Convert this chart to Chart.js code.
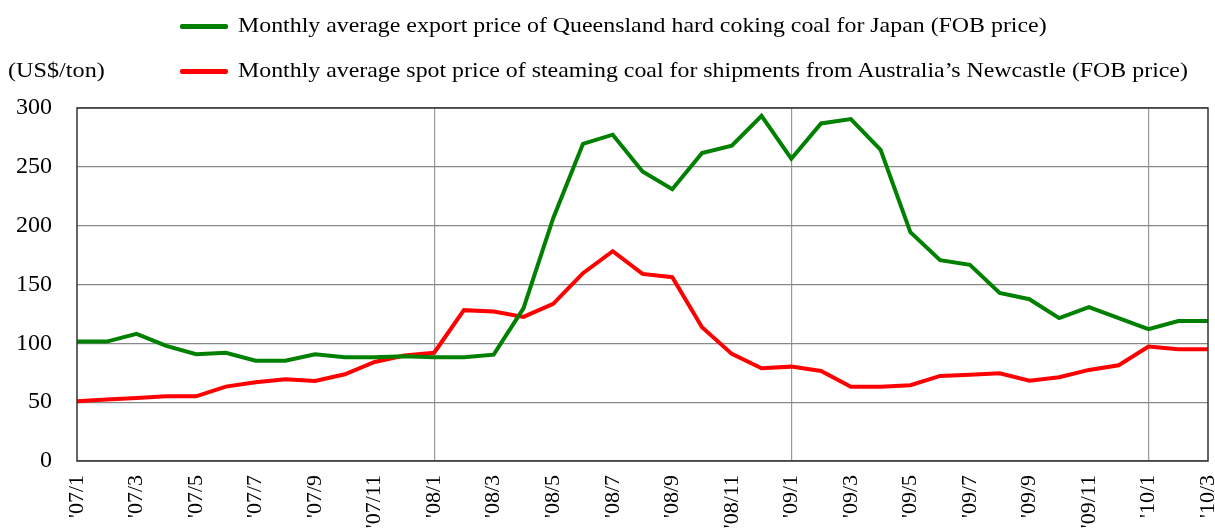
<!DOCTYPE html>
<html>
<head>
<meta charset="utf-8">
<script src="https://cdn.jsdelivr.net/npm/chart.js@4"></script>
<style>
  html, body { margin: 0; padding: 0; background: #fff; overflow: hidden; }
  body { width: 1215px; height: 530px; position: relative; font-family: "Liberation Serif", "Times New Roman", serif; color: #000; }
  #wrap { position: absolute; left: 0; top: 0; width: 1215px; height: 531px; }
  .key { position: absolute; left: 180px; height: 30px; line-height: 30px; font-size: 22px; white-space: nowrap; }
  .key span { display: inline-block; width: 48px; height: 5px; vertical-align: middle; margin-right: 10px; border-radius: 2px; }
  .key em { font-style: normal; display: inline-block; transform: scaleX(1.085); transform-origin: left center; }
  #unit { position: absolute; left: 8px; top: 55px; font-size: 22px; line-height: 30px; transform: scaleX(1.1); transform-origin: left center; }
</style>
</head>
<body>
<div id="wrap"><canvas id="coalChart"></canvas></div>
<div class="key" style="top:10px"><span style="background:#008000"></span><em>Monthly average export price of Queensland hard coking coal for Japan (FOB price)</em></div>
<div class="key" style="top:55px"><span style="background:#ff0000"></span><em>Monthly average spot price of steaming coal for shipments from Australia’s Newcastle (FOB price)</em></div>
<div id="unit">(US$/ton)</div>
<script>
// months '07/1 .. '10/3
const months = [];
for (let y = 7; y <= 10; y++) {
  for (let m = 1; m <= 12; m++) {
    if (y === 10 && m > 3) break;
    months.push("'" + String(y).padStart(2, "0") + "/" + m);
  }
}

const cokingCoal = [
  101.5, 101.5, 108, 97.8, 90.7, 91.9, 85.3, 85.3, 90.7, 88.2, 88.2, 89,
  88.2, 88.2, 90.4, 129.8, 206.4, 269.6, 277.3, 246, 231, 261.7, 267.9, 293.4,
  256.9, 286.9, 290.6, 264.5, 194.5, 170.7, 166.7, 142.9, 137.5, 121.4, 130.7, 121.4,
  112, 119, 119
];

const steamingCoal = [
  50.8, 52.2, 53.6, 55, 55, 63.2, 66.9, 69.5, 68, 73.7, 84.2, 89.6,
  92, 128.2, 127, 122.5, 133.5, 159.6, 178.3, 159, 156.2, 113.7, 91, 78.8,
  80.2, 76.5, 63, 63, 64.4, 72.3, 73.4, 74.6, 68.3, 71.2, 77.4, 81.4,
  97.2, 95, 95
];

const yearStarts = [12, 24, 36];

// frame round the plot area
const frame = {
  id: "frame",
  afterDraw(chart) {
    const a = chart.chartArea;
    const ctx = chart.ctx;
    ctx.save();
    ctx.strokeStyle = "#333";
    ctx.lineWidth = 1.5;
    ctx.strokeRect(a.left, a.top, a.right - a.left, a.bottom - a.top);
    ctx.restore();
  }
};

const serif = "'Liberation Serif', 'Times New Roman', serif";

new Chart(document.getElementById("coalChart"), {
  type: "line",
  data: {
    labels: months,
    datasets: [
      {
        label: "Monthly average export price of Queensland hard coking coal for Japan (FOB price)",
        data: cokingCoal,
        borderColor: "#008000",
        borderWidth: 4,
        pointRadius: 0,
        tension: 0,
        borderJoinStyle: "miter"
      },
      {
        label: "Monthly average spot price of steaming coal for shipments from Australia’s Newcastle (FOB price)",
        data: steamingCoal,
        borderColor: "#ff0000",
        borderWidth: 4,
        pointRadius: 0,
        tension: 0,
        borderJoinStyle: "miter"
      }
    ]
  },
  options: {
    responsive: true,
    maintainAspectRatio: false,
    animation: false,
    layout: { padding: { top: 108, right: 7, left: 0, bottom: 0 } },
    plugins: {
      legend: { display: false },
      tooltip: { enabled: false }
    },
    scales: {
      x: {
        offset: false,
        afterFit(axis) {
          axis.height = 70;
          axis.paddingLeft = 0;
          axis.paddingRight = 0;
        },
        grid: {
          drawTicks: false,
          color: (c) => (c.tick && yearStarts.includes(c.index) ? "#999" : "rgba(0,0,0,0)"),
          lineWidth: 1.2
        },
        border: { display: false },
        ticks: {
          autoSkip: false,
          minRotation: 90,
          maxRotation: 90,
          padding: 14,
          color: "#000",
          font: { family: serif, size: 22 },
          callback(value, index) {
            return index % 2 === 0 ? months[index] : "";
          }
        }
      },
      y: {
        min: 0,
        max: 300,
        afterFit(axis) { axis.width = 77; },
        grid: { drawTicks: false, color: "#888", lineWidth: 1.2 },
        border: { display: false },
        ticks: {
          stepSize: 50,
          padding: 25,
          color: "#000",
          font: { family: serif, size: 24 }
        }
      }
    }
  },
  plugins: [frame]
});
</script>
</body>
</html>
